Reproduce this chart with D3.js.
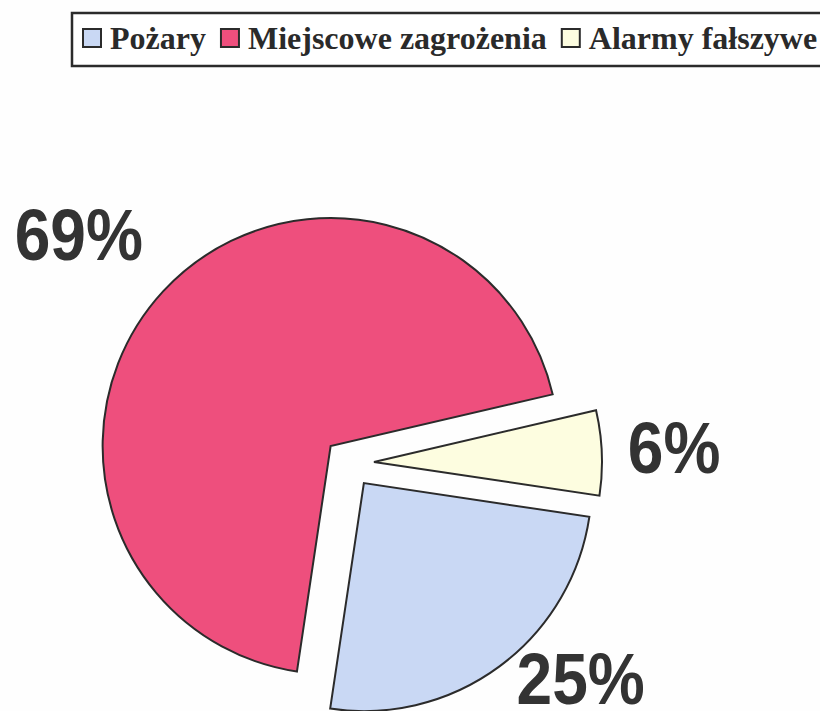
<!DOCTYPE html>
<html>
<head>
<meta charset="utf-8">
<script src="https://cdn.jsdelivr.net/npm/d3@7"></script>
<style>
  html, body { margin: 0; padding: 0; background: #fefefe; }
  svg { display: block; }
</style>
</head>
<body>
<svg id="chart"></svg>
<script>
// Struktura interwencji – wykres kołowy
const WIDTH = 820;
const HEIGHT = 711;

const categories = ['Pożary', 'Miejscowe zagrożenia', 'Alarmy fałszywe'];
const values = [25, 69, 6];
const colors = ['#c9d8f4', '#ee4f7d', '#fdfde0'];

const RADIUS = 228;
const EXPLODE = 25;
const CENTER = [349, 463];
const START_DEG = 98.5;

const svg = d3.select('#chart')
    .attr('width', WIDTH)
    .attr('height', HEIGHT);

const data = categories.map((name, i) => ({ name, value: values[i], color: colors[i] }));
const total = d3.sum(values);

const pie = d3.pie()
    .sort(null)
    .value(d => d.value)
    .startAngle(START_DEG * Math.PI / 180)
    .endAngle(START_DEG * Math.PI / 180 + 2 * Math.PI);

const arc = d3.arc().innerRadius(0).outerRadius(RADIUS);
const arcs = pie(data);

const pieG = svg.append('g')
    .attr('transform', `translate(${CENTER[0]},${CENTER[1]})`);

const slices = pieG.selectAll('g.slice')
    .data(arcs)
    .join('g')
    .attr('class', 'slice')
    .attr('transform', d => {
        const a = (d.startAngle + d.endAngle) / 2;
        return `translate(${Math.sin(a) * EXPLODE},${-Math.cos(a) * EXPLODE})`;
    });

slices.append('path')
    .attr('d', arc)
    .attr('fill', d => d.data.color)
    .attr('stroke', '#2b2b2b')
    .attr('stroke-width', 2)
    .attr('stroke-linejoin', 'miter');

// percentage labels in a text box just outside the slice edge
const LABEL_SIZE = 72;
const BOX_H = 83;       // line box of the label
const BASELINE = 66;    // baseline offset inside the box
const LABEL_SCALE = 0.89;
const GAP = 22;
const clamp = (v, lo, hi) => Math.max(lo, Math.min(hi, v));

slices.each(function (d) {
    const a = (d.startAngle + d.endAngle) / 2;
    const dx = Math.sin(a), dy = -Math.cos(a);
    const t = d3.select(this).append('text')
        .text(Math.round(d.data.value / total * 100) + '%')
        .attr('font-family', '"Liberation Sans", Arial, sans-serif')
        .attr('font-weight', 'bold')
        .attr('font-size', LABEL_SIZE)
        .attr('fill', '#333333')
        .attr('text-anchor', 'middle');
    const bw = t.node().getComputedTextLength() * LABEL_SCALE + 8;
    const px = dx * (RADIUS + GAP), py = dy * (RADIUS + GAP);
    const cx = px + bw / 2 * clamp(dx * 2, -1, 1);
    const cy = py + BOX_H / 2 * clamp(dy * 2, -1, 1);
    let base = cy - BOX_H / 2 + BASELINE;
    // keep the label inside the chart area
    const offY = CENTER[1] - Math.cos(a) * EXPLODE;
    base = Math.min(base, HEIGHT - 7 - offY);
    t.attr('transform', `translate(${cx},${base}) scale(${LABEL_SCALE},1)`);
});

// legend
const legend = svg.append('g').attr('class', 'legend');
legend.append('rect')
    .attr('x', 72).attr('y', 13)
    .attr('width', 780).attr('height', 53)
    .attr('fill', '#ffffff')
    .attr('stroke', '#2b2b2b')
    .attr('stroke-width', 2.5);

let lx = 83;
data.forEach(d => {
    legend.append('rect')
        .attr('x', lx).attr('y', 29)
        .attr('width', 18).attr('height', 18)
        .attr('fill', d.color)
        .attr('stroke', '#2b2b2b')
        .attr('stroke-width', 2);
    const txt = legend.append('text')
        .attr('x', lx + 27).attr('y', 49)
        .attr('font-family', '"Liberation Serif", "Times New Roman", serif')
        .attr('font-weight', 'bold')
        .attr('font-size', 32)
        .attr('fill', '#2a2a2a')
        .text(d.name);
    lx += 27 + txt.node().getComputedTextLength() + 15;
});
</script>
</body>
</html>
